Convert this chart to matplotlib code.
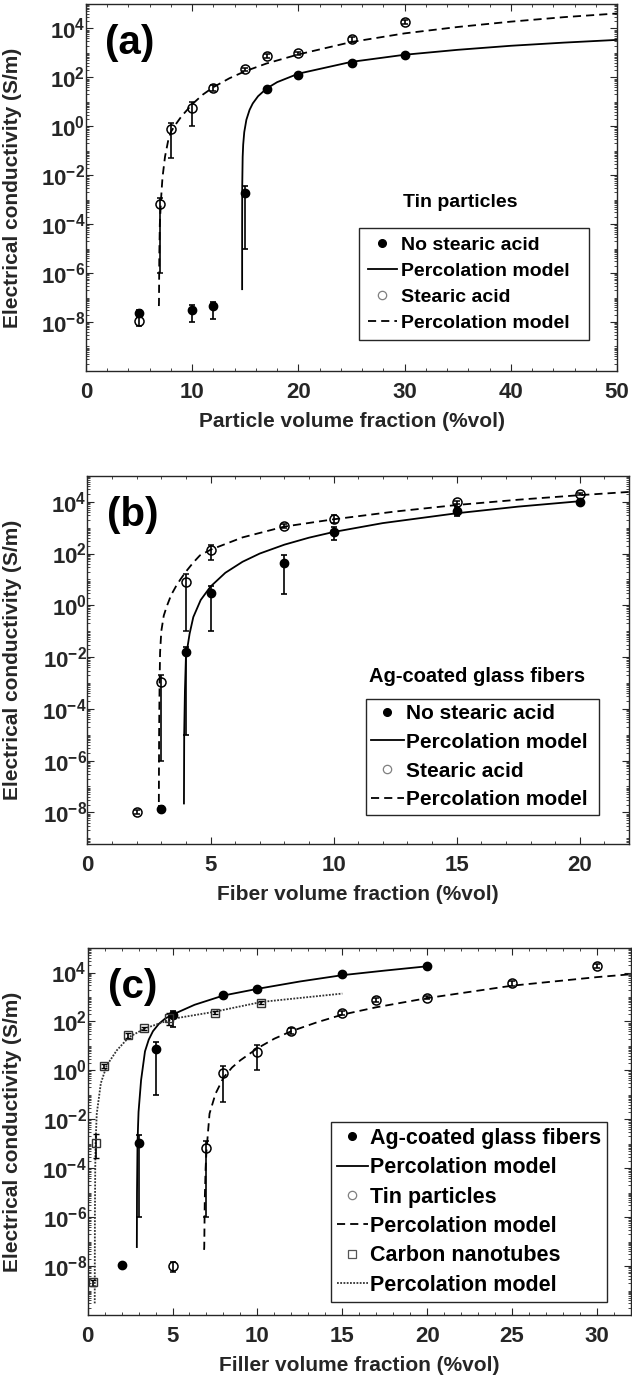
import numpy as np
import matplotlib
matplotlib.use("Agg")
import matplotlib.pyplot as plt
from matplotlib.lines import Line2D
from matplotlib.ticker import LogLocator, MultipleLocator, NullFormatter

plt.rcParams['font.family'] = ['Liberation Sans', 'DejaVu Sans']
plt.rcParams['font.weight'] = 'bold'
plt.rcParams['mathtext.fontset'] = 'custom'
plt.rcParams['mathtext.rm'] = 'Liberation Sans:bold'
plt.rcParams['mathtext.bf'] = 'Liberation Sans:bold'
plt.rcParams['mathtext.default'] = 'bf'
plt.rcParams['axes.unicode_minus'] = False

GRAY = '#262626'

# ---------- panel (a): tin particles ----------
a_x_plain = [5, 10, 12, 15, 17, 20, 25, 30]
a_y_plain = [2.3e-8, 3e-8, 4.5e-8, 1.9e-3, 35, 125, 400, 830]
a_lo_plain = [1.6e-8, 1e-8, 1.3e-8, 1e-5, 30, 110, 350, 760]
a_hi_plain = [3e-8, 5e-8, 6.5e-8, 3.6e-3, 40, 140, 450, 900]

a_x_sa = [5, 7, 8, 10, 12, 15, 17, 20, 25, 30]
a_y_sa = [1.1e-8, 6.8e-4, 0.78, 5.8, 36, 215, 740, 950, 3600, 1.8e4]
a_lo_sa = [7e-9, 1e-6, 0.05, 1.07, 28, 180, 600, 850, 2800, 1.5e4]
a_hi_sa = [1.6e-8, 1.2e-3, 1.4, 10, 48, 250, 900, 1100, 4300, 2.2e4]

a_mx_plain = [14.7, 14.701, 14.71, 14.75, 14.8, 14.9, 15.1, 15.4, 15.7, 16.2, 17, 18, 20, 25, 30, 35, 40, 45, 50]
a_my_plain = [2.2e-7, 7.8e-5, 3.7e-3, 0.056, 0.18, 0.58, 1.85, 4.7, 8.6, 17, 35, 64, 142, 432, 842, 1340, 1960, 2640, 3410]

a_mx_sa = [6.86, 6.87, 6.9, 6.95, 7.06, 7.2, 7.44, 7.75, 8.0, 8.5, 9, 10, 11, 12, 13.5, 15, 17, 20, 25, 30, 35, 40, 45, 50]
a_my_sa = [4.5e-8, 6e-8, 5e-6, 1e-4, 1e-3, 8e-3, 0.058, 0.28, 0.6, 1.3, 2.6, 8, 19.8, 40, 92, 180, 370, 870, 2800, 6300, 11500, 19000, 29000, 41000]

# ---------- panel (b): Ag-coated glass fibers ----------
b_x_plain = [3, 4, 5, 8, 10, 15, 20]
b_y_plain = [1.4e-8, 1.5e-2, 3.0, 44, 710, 4500, 1.0e4]
b_lo_plain = [1.1e-8, 1e-5, 0.1, 2.8, 340, 2700, 9000]
b_hi_plain = [1.7e-8, 2.5e-2, 5.4, 84, 1070, 6500, 1.15e4]

b_x_sa = [2, 3, 4, 5, 8, 10, 15, 20]
b_y_sa = [1.07e-8, 1.07e-3, 7.9, 139, 1170, 2200, 9600, 2.0e4]
b_lo_sa = [9e-9, 1e-6, 0.1, 54, 1000, 1500, 8500, 1.8e4]
b_hi_sa = [1.25e-8, 2.1e-3, 16, 220, 1350, 3100, 1.1e4, 2.2e4]

b_mx_plain = [3.92, 3.93, 3.96, 4.0, 4.15, 4.3, 4.6, 5.0, 5.6, 6.3, 7, 8, 9, 10, 12, 15, 17.5, 20]
b_my_plain = [2.2e-8, 1.1e-5, 5e-4, 1e-2, 0.08, 0.35, 1.6, 5.3, 18, 48, 100, 220, 410, 680, 1500, 3600, 6500, 1.05e4]

b_mx_sa = [2.9, 2.91, 2.93, 2.95, 3.0, 3.1, 3.22, 3.4, 3.6, 3.76, 4.0, 4.3, 4.57, 5.0, 6.3, 8, 10, 12.5, 15, 17.5, 20, 22]
b_my_sa = [2.5e-8, 1e-5, 1e-3, 1.5e-2, 0.1, 0.4, 0.9, 2.5, 5.5, 9.5, 20, 45, 85, 140, 420, 1100, 2100, 4200, 7500, 12000, 18000, 24000]

# ---------- panel (c): comparison ----------
c_x_ag = [2, 3, 4, 5, 8, 10, 15, 20]
c_y_ag = [1.07e-8, 1.1e-3, 7.8, 180, 1170, 2200, 9100, 1.8e4]
c_lo_ag = [8e-9, 1e-6, 0.1, 60, 1000, 1900, 8000, 1.6e4]
c_hi_ag = [1.3e-8, 2.2e-3, 14, 260, 1350, 2500, 1.05e4, 2.1e4]

c_x_tin = [5, 7, 8, 10, 12, 15, 17, 20, 25, 30]
c_y_tin = [1e-8, 6.6e-4, 0.78, 5.6, 40, 220, 740, 950, 3600, 1.8e4]
c_lo_tin = [6e-9, 1e-6, 0.05, 1.0, 30, 185, 620, 850, 2900, 1.5e4]
c_hi_tin = [1.5e-8, 1.3e-3, 1.5, 11, 52, 260, 880, 1100, 4300, 2.2e4]

c_x_cnt = [0.3, 0.47, 0.97, 2.4, 3.3, 4.8, 7.5, 10.2]
c_y_cnt = [2.2e-9, 1.1e-3, 1.45, 27, 52, 145, 230, 590]
c_lo_cnt = [1.6e-9, 2.5e-4, 1.2, 22, 45, 70, 200, 520]
c_hi_cnt = [2.8e-9, 2.5e-3, 1.8, 33, 60, 230, 260, 660]

c_mx_ag = [2.9, 2.91, 2.94, 2.97, 3.0, 3.15, 3.38, 3.6, 3.85, 4.2, 4.56, 5.0, 6.3, 8, 10, 12.5, 15, 17.5, 20]
c_my_ag = [6e-8, 1e-5, 1e-3, 5e-3, 0.02, 0.4, 6, 18, 40, 80, 130, 190, 480, 1150, 2150, 4300, 7800, 12000, 1.8e4]

c_mx_tin = [6.86, 6.87, 6.9, 6.95, 7.0, 7.18, 7.53, 8.0, 8.5, 9, 10, 11, 12, 13.5, 15, 17, 20, 25, 30, 32]
c_my_tin = [4.6e-8, 6e-8, 5e-6, 1e-4, 5e-4, 0.017, 0.11, 0.5, 1.3, 2.6, 8, 19.8, 40, 92, 190, 380, 900, 2900, 6500, 8500]

c_mx_cnt = [0.42, 0.43, 0.45, 0.47, 0.54, 0.78, 1.13, 1.72, 2.44, 3.38, 5.05, 7.42, 10.26, 15]
c_my_cnt = [3e-10, 1e-6, 1e-4, 1.1e-3, 0.017, 0.3, 1.6, 6.6, 23, 52, 130, 245, 630, 1380]

y_tick_vals = [1e-8, 1e-6, 1e-4, 1e-2, 1e0, 1e2, 1e4]
y_tick_labels = [r'$10^{-8}$', r'$10^{-6}$', r'$10^{-4}$', r'$10^{-2}$', r'$10^{0}$', r'$10^{2}$', r'$10^{4}$']

DASH = (0, (4.5, 2.8))
DOT = (0, (1, 0.8))


def errs(y, lo, hi):
    return [np.subtract(y, lo), np.subtract(hi, y)]


def setup(ax, xlim, xmaj, xmin, ylo, xlabel, tag):
    ax.set_yscale('log')
    ax.set_xlim(*xlim)
    ax.set_ylim(ylo, 1e5)
    ax.set_yticks(y_tick_vals)
    ax.set_yticklabels(y_tick_labels)
    ax.yaxis.set_minor_locator(LogLocator(base=10, subs=np.arange(1, 10), numticks=100))
    ax.yaxis.set_minor_formatter(NullFormatter())
    ax.xaxis.set_major_locator(MultipleLocator(xmaj))
    ax.xaxis.set_minor_locator(MultipleLocator(xmin))
    ax.tick_params(which='both', direction='in', top=True, right=True, color=GRAY,
                   labelcolor=GRAY, labelsize=16)
    ax.tick_params(which='major', length=5, width=0.8)
    ax.tick_params(which='minor', length=2.5, width=0.6)
    ax.tick_params(axis='x', pad=8)
    ax.tick_params(axis='y', pad=0.5)
    for s in ax.spines.values():
        s.set_color(GRAY)
        s.set_linewidth(1.0)
    ax.set_xlabel(xlabel, fontsize=15, fontweight='bold', color=GRAY)
    ax.set_ylabel('Electrical conductivity (S/m)', fontsize=15, fontweight='bold', color=GRAY)
    ax.yaxis.set_label_coords(-0.12, 0.5)
    ax.xaxis.set_label_coords(0.5, -0.112)
    ax.text(0.083, 0.895, tag, transform=ax.transAxes, fontsize=29, fontweight='bold',
            ha='center', va='center', color='k')


def add_legend(ax, handles, labels, x0, ytop, w, fs, bp, ls, hl, htp):
    leg = ax.legend(handles, labels, loc='upper left', bbox_to_anchor=(x0, 0, w, ytop),
                    mode='expand', borderaxespad=0, frameon=True, fancybox=False,
                    edgecolor=GRAY, framealpha=1, handlelength=hl, handletextpad=htp,
                    borderpad=bp, labelspacing=ls, prop={'weight': 'bold', 'size': fs})
    leg.get_frame().set_linewidth(1.0)
    return leg


h_fill = Line2D([], [], ls='none', marker='o', ms=5.5, mfc='k', mec='k')
h_solid = Line2D([], [], color='k', lw=1.3)
h_open = Line2D([], [], ls='none', marker='o', ms=6, mfc='none', mec='#808080', mew=0.9)
h_dash = Line2D([], [], color='k', lw=1.3, ls=DASH)
h_sq = Line2D([], [], ls='none', marker='s', ms=5.5, mfc='none', mec='#555555', mew=0.9)
h_dot = Line2D([], [], color='#333333', lw=1.3, ls=DOT)

fig = plt.figure(figsize=(6.32, 13.79), dpi=100)
axa = fig.add_axes([0.1361, 0.7310, 0.8402, 0.2661])
axb = fig.add_axes([0.1384, 0.3880, 0.8568, 0.2669])
axc = fig.add_axes([0.1386, 0.0464, 0.8598, 0.2661])

eb = dict(ecolor='k', elinewidth=1.2, capsize=2.2, capthick=1.2, ls='none')

# (a)
axa.plot(a_mx_plain, a_my_plain, color='k', lw=1.3)
axa.plot(a_mx_sa, a_my_sa, color='k', lw=1.3, ls=DASH)
axa.errorbar(a_x_plain, a_y_plain, yerr=errs(a_y_plain, a_lo_plain, a_hi_plain),
             marker='o', ms=6, mfc='k', mec='k', **eb)
axa.errorbar(a_x_sa, a_y_sa, yerr=errs(a_y_sa, a_lo_sa, a_hi_sa),
             marker='o', ms=6.5, mfc='none', mec='k', mew=1.1, **eb)
setup(axa, (0, 50), 10, 2, 1e-10, 'Particle volume fraction (%vol)', '(a)')
axa.text(0.704, 0.458, 'Tin particles', transform=axa.transAxes, fontsize=14,
         fontweight='bold', ha='center', va='center')
add_legend(axa, [h_fill, h_solid, h_open, h_dash],
           ['No stearic acid', 'Percolation model', 'Stearic acid', 'Percolation model'],
           0.514, 0.39, 0.433, 14, 0.45, 0.42, 1.5, 0.2)

# (b)
axb.plot(b_mx_plain, b_my_plain, color='k', lw=1.3)
axb.plot(b_mx_sa, b_my_sa, color='k', lw=1.3, ls=DASH)
axb.errorbar(b_x_plain, b_y_plain, yerr=errs(b_y_plain, b_lo_plain, b_hi_plain),
             marker='o', ms=6, mfc='k', mec='k', **eb)
axb.errorbar(b_x_sa, b_y_sa, yerr=errs(b_y_sa, b_lo_sa, b_hi_sa),
             marker='o', ms=6.5, mfc='none', mec='k', mew=1.1, **eb)
setup(axb, (0, 22), 5, 1, 6e-10, 'Fiber volume fraction (%vol)', '(b)')
axb.text(0.719, 0.455, 'Ag-coated glass fibers', transform=axb.transAxes, fontsize=14.5,
         fontweight='bold', ha='center', va='center')
add_legend(axb, [h_fill, h_solid, h_open, h_dash],
           ['No stearic acid', 'Percolation model', 'Stearic acid', 'Percolation model'],
           0.514, 0.395, 0.430, 15, 0.26, 0.47, 1.55, 0.12)

# (c)
axc.plot(c_mx_ag, c_my_ag, color='k', lw=1.3)
axc.plot(c_mx_tin, c_my_tin, color='k', lw=1.3, ls=DASH)
axc.plot(c_mx_cnt, c_my_cnt, color='#333333', lw=1.3, ls=DOT)
axc.errorbar(c_x_ag, c_y_ag, yerr=errs(c_y_ag, c_lo_ag, c_hi_ag),
             marker='o', ms=6, mfc='k', mec='k', **eb)
axc.errorbar(c_x_tin, c_y_tin, yerr=errs(c_y_tin, c_lo_tin, c_hi_tin),
             marker='o', ms=6.5, mfc='none', mec='k', mew=1.1, **eb)
axc.errorbar(c_x_cnt, c_y_cnt, yerr=errs(c_y_cnt, c_lo_cnt, c_hi_cnt),
             marker='s', ms=5.5, mfc='none', mec='#333333', mew=1.0, **eb)
setup(axc, (0, 32), 5, 1, 1e-10, 'Filler volume fraction (%vol)', '(c)')
add_legend(axc, [h_fill, h_solid, h_open, h_dash, h_sq, h_dot],
           ['Ag-coated glass fibers', 'Percolation model', 'Tin particles', 'Percolation model',
            'Carbon nanotubes', 'Percolation model'],
           0.448, 0.526, 0.508, 15.5, 0.27, 0.39, 1.45, 0.1)

fig.savefig('out.png', dpi=100)
